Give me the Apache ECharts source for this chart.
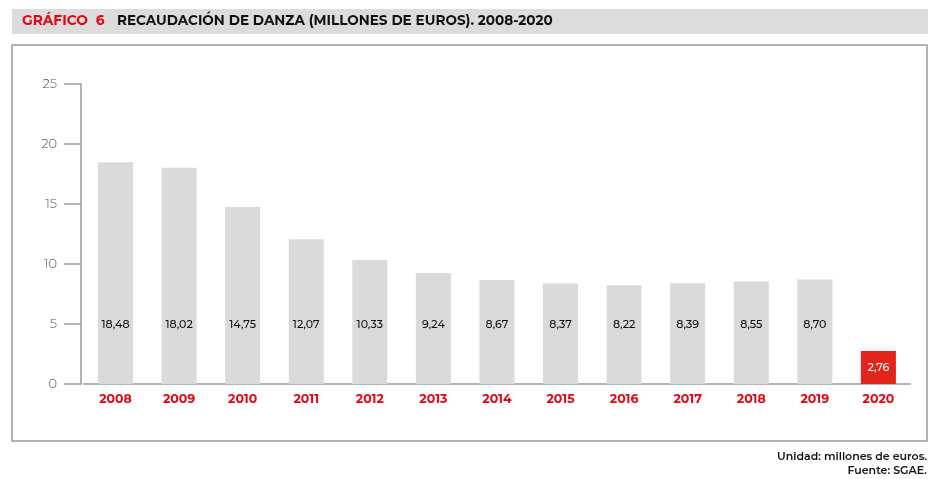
<!DOCTYPE html>
<html><head><meta charset="utf-8">
<script src="https://cdn.jsdelivr.net/npm/echarts@6/dist/echarts.min.js"></script>
<style>html,body{margin:0;padding:0;background:#fff}#c{width:940px;height:479px}</style>
</head><body><div id="c"></div>
<script>
const years = ['2008','2009','2010','2011','2012','2013','2014','2015','2016','2017','2018','2019','2020'];
const values = [18.48,18.02,14.75,12.07,10.33,9.24,8.67,8.37,8.22,8.39,8.55,8.70,2.76];
const yTicks = [0,5,10,15,20,25];
const titleRed = 'GRÁFICO  6';
const titleBlack = 'RECAUDACIÓN DE DANZA (MILLONES DE EUROS). 2008-2020';
const note1 = 'Unidad: millones de euros.';
const note2 = 'Fuente: SGAE.';

const FONT = 'Montserrat, "Open Sans", "Noto Sans", sans-serif';
const chart = echarts.init(document.getElementById('c'), null, {renderer:'canvas'});
const fmt = v => v.toFixed(2).replace('.', ',');
const last = years.length - 1;
const data = values.map((v,i) => i === last ? {
  value: v,
  itemStyle: {color:'#e1251b'},
  label: {position:'inside', color:'#fff', distance:0}
} : {value: v});

chart.setOption({
  animation:false,
  graphic:[
    {type:'rect', shape:{x:12,y:9,width:916,height:25}, style:{fill:'#dcdcdc'}},
    {type:'text', left:22, top:14, style:{text:titleRed, fill:'#e30613', font:'bold 13.8px '+FONT}},
    {type:'text', left:117, top:14, style:{text:titleBlack, fill:'#111', font:'bold 13.6px '+FONT}},
    {type:'rect', shape:{x:12,y:45,width:915,height:396}, style:{fill:'none', stroke:'#9a9a9a', lineWidth:1.5}},
    {type:'text', right:13, top:451, style:{text:note1, fill:'#111', font:'600 11px '+FONT, align:'right'}},
    {type:'text', right:13, top:465, style:{text:note2, fill:'#111', font:'600 11px '+FONT, align:'right'}}
  ],
  grid:{left:83.7, right:29.8, top:84, bottom:95},
  xAxis:{
    type:'category', data:years,
    axisLine:{show:true, lineStyle:{color:'#9a9a9a', width:1.5}},
    axisTick:{show:false},
    axisLabel:{color:'#e30613', fontWeight:'bold', fontSize:12.5, fontFamily:FONT, margin:9}
  },
  yAxis:{
    type:'value', min:0, max:25, interval:5, offset:2.7,
    axisLine:{show:true, lineStyle:{color:'#9a9a9a', width:1.5}},
    axisTick:{show:true, inside:false, length:17, lineStyle:{color:'#9a9a9a', width:1.5}},
    splitLine:{show:false},
    axisLabel:{color:'#555', fontSize:13, fontFamily:FONT, fontWeight:300, margin:24,
      formatter: v => yTicks.includes(v) ? String(v) : ''}
  },
  series:[{
    type:'bar', data:data, barWidth:35,
    itemStyle:{color:'#dadada'},
    label:{show:true, position:'insideBottom', distance:54, color:'#111', fontSize:11, fontWeight:500, fontFamily:FONT,
      formatter: p => fmt(p.value)}
  }]
});
</script></body></html>
